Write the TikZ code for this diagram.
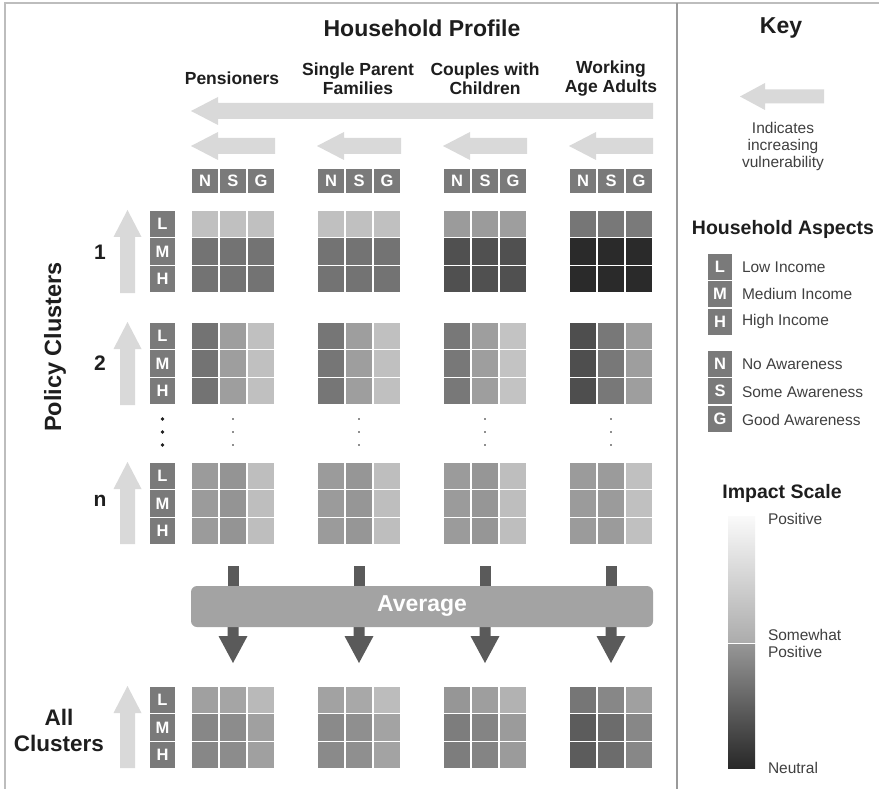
\documentclass[tikz,border=0pt]{standalone}
\usepackage{fontspec}
\setmainfont{Liberation Sans}
\definecolor{txtdark}{HTML}{1E1E1E}
\definecolor{txtkey}{HTML}{404040}
\definecolor{lblgray}{HTML}{7A7A7A}
\definecolor{arrlight}{HTML}{D9D9D9}
\definecolor{arrdark}{HTML}{5A5A5A}
\definecolor{avggray}{HTML}{A3A3A3}
\definecolor{framegray}{HTML}{BDBDBD}
\definecolor{divgray}{HTML}{9A9A9A}
\newcommand\cellrow[6]{%
  \node[cellbox,fill={rgb,255:red,#4;green,#4;blue,#4}] (#1-1) at (#2,#3) {};
  \node[cellbox,fill={rgb,255:red,#5;green,#5;blue,#5}] (#1-2) at (#2+28,#3) {};
  \node[cellbox,fill={rgb,255:red,#6;green,#6;blue,#6}] (#1-3) at (#2+56,#3) {};}
\newcommand\cellgrid[6]{%
  \cellrow{#1-1}{#2}{#3}#4%
  \cellrow{#1-2}{#2}{#3+27.67}#5%
  \cellrow{#1-3}{#2}{#3+55.33}#6}
\newcommand\lmhcol[3]{%
  \node[lblbox] (#1L) at (149,#2) {L};
  \node[lblbox] (#1M) at (149,#2+27.67) {M};
  \node[lblbox] (#1H) at (149,#2+55.33) {H};
  \fill[arrlight] (120,#3) -- (120,#2+27) -- (113.5,#2+27) -- (127.5,#2) -- (141.5,#2+27) -- (135,#2+27) -- (135,#3) -- cycle;}
\newcommand\leftarr[3]{% tip x, right x, centre y
  \fill[arrlight] (#2,#3-8) -- (#1+27,#3-8) -- (#1+27,#3-14) -- (#1,#3) -- (#1+27,#3+14) -- (#1+27,#3+8) -- (#2,#3+8) -- cycle;}
\newcommand\downarr[1]{% centre x
  \fill[arrdark] (#1-5.5,566) rectangle (#1+5.5,590);
  \fill[arrdark] (#1-5.5,622) -- (#1-5.5,636) -- (#1-14.5,636) -- (#1,663) -- (#1+14.5,636) -- (#1+5.5,636) -- (#1+5.5,622) -- cycle;}
\newcommand\nsghead[2]{%
  \node[lblbox,minimum width=28pt,minimum height=26pt] (#1N) at (#2,168) {N};
  \node[lblbox,minimum width=28pt,minimum height=26pt] (#1S) at (#2+28,168) {S};
  \node[lblbox,minimum width=28pt,minimum height=26pt] (#1G) at (#2+56,168) {G};}
\begin{document}
\begin{tikzpicture}[x=1pt,y=-1pt,
  every node/.style={inner sep=0pt,outer sep=0pt},
  cellbox/.style={draw=white,line width=1.2pt,minimum width=28pt,minimum height=27.67pt,anchor=north west},
  lblbox/.style={draw=white,line width=1.2pt,fill=lblgray,text=white,minimum width=27pt,minimum height=27.67pt,anchor=north west,font=\fontsize{16.5}{16.5}\selectfont\bfseries},
  keybox/.style={lblbox,minimum width=26pt,minimum height=27.5pt},
  bigtitle/.style={text=txtdark,font=\fontsize{23}{26}\selectfont\bfseries,align=center},
  colhead/.style={text=txtdark,font=\fontsize{17.5}{19}\selectfont\bfseries,align=center},
  subtitle/.style={text=txtdark,font=\fontsize{19.5}{22}\selectfont\bfseries},
  keytext/.style={text=txtkey,font=\fontsize{15.5}{17}\selectfont,align=left},
  avgbar/.style={fill=avggray,rounded corners=6pt,minimum width=462pt,minimum height=41pt,text=white,font=\fontsize{23}{23}\selectfont\bfseries}]
\useasboundingbox (0,0) rectangle (879,789);
\fill[white] (0,0) rectangle (879,789);
% frame
\draw[framegray,line width=1.5pt] (5,789) -- (5,3) -- (879,3);
\draw[divgray,line width=1.2pt] (677,3) -- (677,789);
% titles
\node[bigtitle] (hp) at (422,28) {Household Profile};
\node[bigtitle] (key) at (781,28) {Key};
\node[colhead] (pens) at (232,78) {Pensioners};
\node[colhead] (spf) at (358,78.5) {Single Parent\\Families};
\node[colhead] (cwc) at (485,78.5) {Couples with\\Children};
\node[colhead] (waa) at (611,78.5) {Working\\Age Adults};
% vulnerability arrows
\leftarr{191}{653}{111}
\leftarr{191}{275}{146}
\leftarr{317}{401}{146}
\leftarr{443}{527}{146}
\leftarr{569}{653}{146}
% NSG headers
\nsghead{p}{191}
\nsghead{s}{317}
\nsghead{c}{443}
\nsghead{w}{569}
% row labels
\node[text=txtdark,font=\fontsize{23.5}{26}\selectfont\bfseries,rotate=90] (pc) at (55,347) {Policy Clusters};
\node[text=txtdark,font=\fontsize{21}{21}\selectfont\bfseries] (c1) at (100,252) {1};
\node[text=txtdark,font=\fontsize{21}{21}\selectfont\bfseries] (c2) at (100,363) {2};
\node[text=txtdark,font=\fontsize{21}{21}\selectfont\bfseries] (cn) at (100,501) {n};
\node[text=txtdark,font=\fontsize{22.5}{26}\selectfont\bfseries,align=center] (ac) at (59,730) {All\\Clusters};
% LMH columns and up arrows
\lmhcol{a}{210}{293}
\lmhcol{b}{322}{405}
\lmhcol{n}{462}{544}
\lmhcol{t}{686}{768}
% cluster 1
\cellgrid{p1}{191}{210}{{192}{192}{192}}{{115}{115}{115}}{{115}{115}{115}}
\cellgrid{s1}{317}{210}{{192}{192}{192}}{{115}{115}{115}}{{115}{115}{115}}
\cellgrid{c1}{443}{210}{{155}{155}{158}}{{80}{80}{80}}{{80}{80}{80}}
\cellgrid{w1}{569}{210}{{118}{120}{122}}{{42}{42}{42}}{{42}{42}{42}}
% cluster 2
\cellgrid{p2}{191}{322}{{115}{158}{192}}{{115}{158}{192}}{{115}{158}{192}}
\cellgrid{s2}{317}{322}{{118}{158}{192}}{{118}{158}{192}}{{118}{158}{192}}
\cellgrid{c2}{443}{322}{{120}{158}{195}}{{120}{158}{195}}{{120}{158}{195}}
\cellgrid{w2}{569}{322}{{78}{120}{158}}{{78}{120}{158}}{{78}{120}{158}}
% dots
\foreach \cx in {233,359,485,611}{
  \foreach \dy in {419,432,445}{\fill[txtdark] (\cx,\dy) circle (0.9pt);}}
\foreach \dy in {419,432,445}{\fill[txtdark] (162.5,\dy) circle (1.8pt);}
% cluster n
\cellgrid{pn}{191}{462}{{155}{148}{190}}{{155}{148}{190}}{{155}{148}{190}}
\cellgrid{sn}{317}{462}{{155}{150}{190}}{{155}{150}{190}}{{155}{150}{190}}
\cellgrid{cn}{443}{462}{{155}{150}{190}}{{155}{150}{190}}{{155}{150}{190}}
\cellgrid{wn}{569}{462}{{155}{155}{192}}{{155}{155}{192}}{{155}{155}{192}}
% average
\downarr{233}
\downarr{359}
\downarr{485}
\downarr{611}
\node[avgbar] (avg) at (422,606.5) {Average};
% all clusters
\cellgrid{pa}{191}{686}{{160}{165}{185}}{{135}{140}{160}}{{135}{140}{160}}
\cellgrid{sa}{317}{686}{{162}{168}{188}}{{138}{143}{163}}{{138}{143}{163}}
\cellgrid{ca}{443}{686}{{150}{158}{178}}{{125}{132}{155}}{{125}{132}{155}}
\cellgrid{wa}{569}{686}{{118}{135}{160}}{{92}{108}{135}}{{92}{108}{135}}
% key
\fill[arrlight] (824,89.5) -- (765,89.5) -- (765,83) -- (740,96.5) -- (765,110) -- (765,103.5) -- (824,103.5) -- cycle;
\node[keytext,align=center] (ind) at (783,146) {Indicates\\increasing\\vulnerability};
\node[subtitle] (ha) at (783,229) {Household Aspects};
\node[keybox] (kL) at (707,253) {L};
\node[keybox] (kM) at (707,280.5) {M};
\node[keybox] (kH) at (707,308) {H};
\node[keytext,anchor=west] (tL) at (742,267) {Low Income};
\node[keytext,anchor=west] (tM) at (742,294) {Medium Income};
\node[keytext,anchor=west] (tH) at (742,321) {High Income};
\node[keybox] (kN) at (707,350) {N};
\node[keybox] (kS) at (707,377.5) {S};
\node[keybox] (kG) at (707,405) {G};
\node[keytext,anchor=west] (tN) at (742,364) {No Awareness};
\node[keytext,anchor=west] (tS) at (742,392) {Some Awareness};
\node[keytext,anchor=west] (tG) at (742,420) {Good Awareness};
\node[subtitle] (is) at (782,493) {Impact Scale};
\shade[top color={rgb,255:red,250;green,250;blue,250},bottom color={rgb,255:red,172;green,172;blue,172}] (728,516) rectangle (755,642.5);
\shade[top color={rgb,255:red,150;green,150;blue,150},bottom color={rgb,255:red,40;green,40;blue,40}] (728,644.5) rectangle (755,768);
\node[keytext,anchor=west] (sp) at (768,519) {Positive};
\node[keytext,anchor=west] (sm) at (768,643) {Somewhat\\Positive};
\node[keytext,anchor=west] (sn) at (768,768) {Neutral};
\end{tikzpicture}
\end{document}
